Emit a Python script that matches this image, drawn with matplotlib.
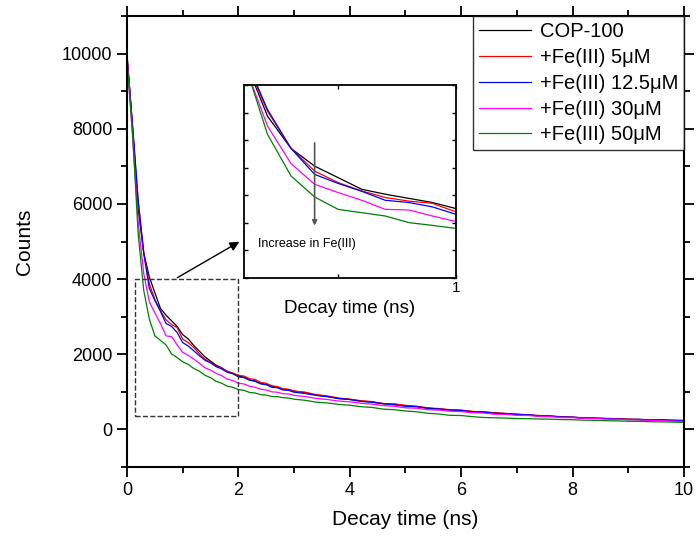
import numpy as np
import matplotlib
matplotlib.use('Agg')
import matplotlib.pyplot as plt

plt.rcParams['font.family'] = ['Liberation Sans', 'DejaVu Sans']

#%% data
# sample times: 0.1 ns steps up to 3 ns, then 0.2 ns steps
t = np.round(np.concatenate([np.arange(0, 3.01, 0.1), np.arange(3.2, 10.01, 0.2)]), 2)

cop100 = [10000, 8000, 5870, 4700, 4060, 3640, 3220, 3040, 2890, 2740, 2520,
          2410, 2230, 2080, 1930, 1820, 1710, 1640, 1540, 1490, 1420,
          1390, 1320, 1290, 1230, 1200, 1150, 1120, 1070, 1060, 1020,
          980, 915, 880, 820, 800, 755, 730, 685, 670, 630, 610, 560, 545, 515, 505,
          475, 465, 440, 425, 400, 385, 360, 355, 330, 325, 305, 300, 285, 285, 270,
          265, 255, 255, 240, 240]
fe5 = [9950, 8050, 6050, 4700, 3880, 3460, 3160, 2920, 2790, 2710, 2400,
       2310, 2180, 2010, 1870, 1790, 1690, 1630, 1550, 1500, 1440,
       1420, 1350, 1330, 1250, 1230, 1160, 1140, 1080, 1070, 1020,
       990, 925, 890, 835, 805, 765, 740, 690, 680, 640, 615, 575, 555, 525, 515,
       480, 465, 445, 420, 410, 390, 370, 355, 340, 325, 310, 300, 295, 285, 275,
       265, 255, 250, 245, 235]
fe12 = [9900, 8100, 6110, 4700, 3760, 3430, 3145, 2820, 2740, 2580, 2310,
        2220, 2090, 1960, 1840, 1770, 1670, 1610, 1520, 1480, 1400,
        1380, 1310, 1280, 1210, 1190, 1120, 1110, 1050, 1040, 990,
        955, 905, 870, 825, 795, 745, 725, 685, 655, 615, 605, 565, 545, 515, 505,
        465, 460, 430, 420, 395, 390, 360, 355, 330, 325, 305, 300, 290, 280, 265,
        268, 255, 250, 240, 235]
fe30 = [9900, 7800, 5510, 4150, 3400, 3100, 2820, 2490, 2470, 2250, 2050,
        1970, 1870, 1760, 1640, 1580, 1490, 1430, 1340, 1300, 1230,
        1210, 1150, 1120, 1070, 1050, 1000, 990, 950, 945, 905,
        875, 825, 795, 755, 735, 695, 675, 635, 615, 575, 565, 525, 515, 485, 475,
        445, 435, 405, 400, 375, 370, 345, 340, 315, 312, 295, 292, 275, 272, 255,
        250, 240, 235, 222, 215]
fe50 = [9800, 7880, 5210, 3700, 2940, 2490, 2370, 2250, 2010, 1910, 1800,
        1730, 1620, 1550, 1440, 1380, 1280, 1230, 1150, 1120, 1060,
        1040, 985, 970, 925, 915, 875, 872, 845, 835, 805,
        775, 725, 705, 665, 645, 605, 585, 540, 525, 490, 470, 430, 410, 375, 370,
        340, 318, 310, 302, 290, 288, 278, 272, 262, 258, 248, 242, 232, 228, 218,
        215, 205, 200, 195, 188]

labels = ['COP-100', '+Fe(III) 5\u03bcM', '+Fe(III) 12.5\u03bcM', '+Fe(III) 30\u03bcM', '+Fe(III) 50\u03bcM']
colors = ['black', 'red', 'blue', 'magenta', 'green']
series = [cop100, fe5, fe12, fe30, fe50]

#%% main plot
fig = plt.figure(figsize=(6.99, 5.36), dpi=100)
ax = fig.add_axes([0.1817, 0.1287, 0.7968, 0.8414])

for y, c, lab in zip(series, colors, labels):
    ax.plot(t, y, color=c, lw=0.9, label=lab)

ax.set_xlim(0, 10)
ax.set_ylim(-1000, 11000)
ax.set_xticks(np.arange(0, 11, 2))
ax.set_xticks(np.arange(1, 10, 2), minor=True)
ax.set_yticks(np.arange(0, 10001, 2000))
ax.set_yticks(np.arange(-1000, 11001, 2000), minor=True)
ax.tick_params(which='both', direction='out', top=True, right=True, width=1.3, labelsize=13)
ax.tick_params(which='major', length=7)
ax.tick_params(which='minor', length=4)
for s in ax.spines.values():
    s.set_linewidth(1.5)
ax.set_xlabel('Decay time (ns)', fontsize=15, labelpad=8)
ax.set_ylabel('Counts', fontsize=15, labelpad=20)

leg = ax.legend(loc='upper right', borderaxespad=0, fontsize=14.5, frameon=True, fancybox=False,
                edgecolor='black', handlelength=2.6, handletextpad=0.4, labelspacing=0.34,
                borderpad=0.3)
leg.get_frame().set_linewidth(1.0)

# dashed zoom box and arrow to inset
ax.plot([0.15, 2.0, 2.0, 0.15, 0.15], [370, 370, 4000, 4000, 370], ls='--', color='#333333', lw=1)
ax.annotate('', xy=(2.06, 5030), xytext=(0.86, 4000),
            arrowprops=dict(arrowstyle='-|>', color='black', lw=1, mutation_scale=14))

#%% inset
ins = fig.add_axes([0.349, 0.4813, 0.3033, 0.360])
for y, c in zip(series, colors):
    ins.plot(t, y, color=c, lw=0.9)
ins.set_xlim(0.1, 1)
ins.set_ylim(0, 7000)
ins.set_xticks([1])
ins.set_xticks([0.5], minor=True)
ins.set_yticks(np.arange(0, 7001, 1000))
ins.set_yticklabels([])
ins.tick_params(which='both', direction='in', top=True, right=True, length=3, width=1, labelsize=11, pad=2)
for s in ins.spines.values():
    s.set_linewidth(1.3)
ins.set_xlabel('Decay time (ns)', fontsize=13.5, labelpad=4)
ins.annotate('', xy=(0.4, 1800), xytext=(0.4, 5000),
             arrowprops=dict(arrowstyle='-|>', color='#555555', lw=1.2, mutation_scale=7))
ins.text(0.16, 1250, 'Increase in Fe(III)', fontsize=9, va='center', ha='left')

fig.savefig('out.png', dpi=100)
